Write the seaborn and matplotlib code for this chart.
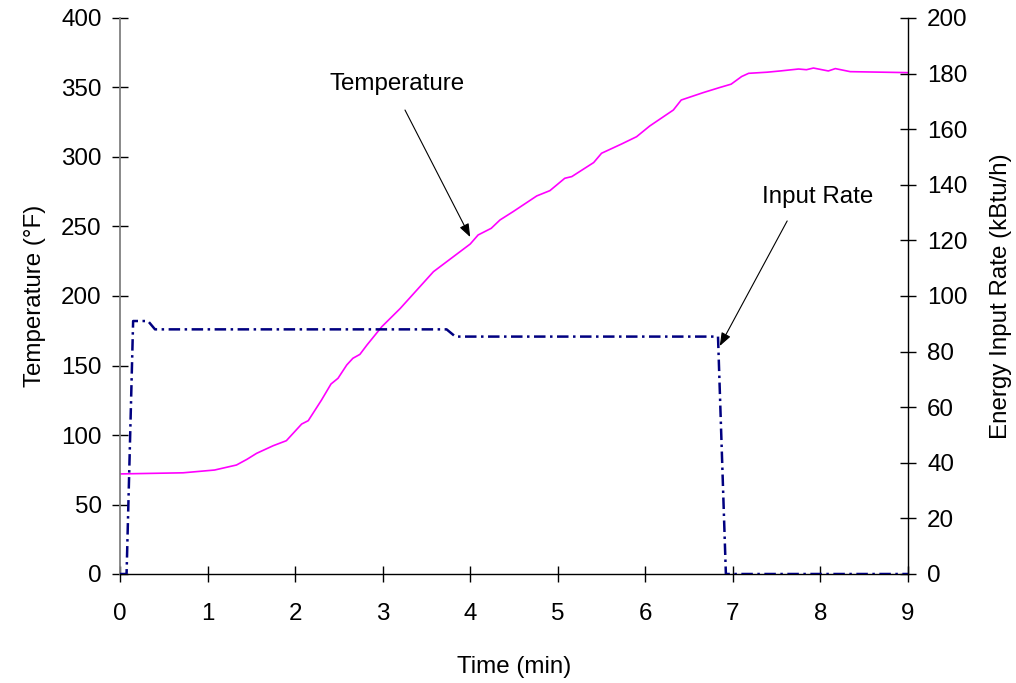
import matplotlib
matplotlib.use("Agg")
import matplotlib.pyplot as plt
import seaborn as sns
import pandas as pd

# Oven temperature trace (minutes, degrees F)
temp_time = [0.0, 0.72, 1.08, 1.33, 1.45, 1.56, 1.75, 1.90, 2.075, 2.15, 2.30, 2.41,
             2.49, 2.59, 2.66, 2.74, 2.82, 2.99, 3.20, 3.58, 4.00, 4.09, 4.24, 4.34,
             4.49, 4.76, 4.91, 5.08, 5.16, 5.41, 5.50, 5.73, 5.90, 6.05, 6.32, 6.41,
             6.66, 6.85, 6.98, 7.10, 7.18, 7.39, 7.54, 7.75, 7.84, 7.92, 8.09, 8.17,
             8.34, 8.53, 8.72, 9.00]
temp_f = [72.0, 72.8, 74.8, 78.4, 82.5, 86.8, 92.3, 95.9, 107.9, 110.3, 125.0, 136.7,
          140.8, 150.4, 155.2, 158.0, 164.7, 177.9, 191.0, 217.5, 237.4, 243.9, 248.7, 254.7,
          260.7, 272.0, 275.8, 284.7, 285.9, 296.0, 302.7, 309.4, 314.6, 322.3, 333.8, 341.0,
          346.3, 350.0, 352.4, 357.9, 360.2, 361.0, 361.9, 363.3, 362.8, 364.0, 361.9, 363.6,
          361.4, 361.2, 361.0, 360.7]

# Burner energy input rate (minutes, kBtu/h)
rate_time = [0.0, 0.075, 0.15, 0.32, 0.40, 3.73, 3.83, 6.83, 6.92, 9.0]
rate_kbtu = [0.0, 0.0, 91.0, 91.0, 88.0, 88.0, 85.4, 85.4, 0.0, 0.0]

x_ticks = list(range(0, 10))
temp_ticks = list(range(0, 401, 50))
rate_ticks = list(range(0, 201, 20))

temp_df = pd.DataFrame({"time": temp_time, "temp": temp_f})
rate_df = pd.DataFrame({"time": rate_time, "rate": rate_kbtu})

sns.set_style("white")
plt.rcParams["font.family"] = ["Liberation Sans", "DejaVu Sans"]
for key in ("text.color", "axes.labelcolor", "xtick.color", "ytick.color"):
    plt.rcParams[key] = "black"
fs = 17.4

fig = plt.figure(figsize=(10.16, 6.83), dpi=100)
ax1 = fig.add_axes([120 / 1016, 1 - 574 / 683, 788 / 1016, 556 / 683])
ax2 = ax1.twinx()

sns.lineplot(data=temp_df, x="time", y="temp", ax=ax1, color="#FF00FF",
             linewidth=1.2, estimator=None, sort=False)
sns.lineplot(data=rate_df, x="time", y="rate", ax=ax2, color="#000080",
             linewidth=1.8, estimator=None, sort=False,
             linestyle=(0, (4.6, 1.8, 1.0, 1.8)))

ax1.set_xlim(0, 9)
ax1.set_ylim(0, 400)
ax2.set_ylim(0, 200)
ax1.set_xticks(x_ticks)
ax1.set_yticks(temp_ticks)
ax2.set_yticks(rate_ticks)

for sp in ("top", "right"):
    ax1.spines[sp].set_visible(False)
for sp in ("top", "left", "bottom"):
    ax2.spines[sp].set_visible(False)
ax1.spines["left"].set_color("#808080")
ax1.spines["left"].set_linewidth(1.3)
ax1.spines["bottom"].set_color("black")
ax1.spines["bottom"].set_linewidth(1.0)
ax2.spines["right"].set_color("black")
ax2.spines["right"].set_linewidth(1.0)

ax1.tick_params(axis="y", direction="inout", length=11.5, width=1.0, color="black",
                labelcolor="black", labelsize=fs, pad=7.5, left=True)
ax1.tick_params(axis="x", direction="inout", length=12, width=1.0, color="black",
                labelcolor="black", labelsize=fs, pad=15, bottom=True)
ax2.tick_params(axis="y", direction="inout", length=11.5, width=1.0, color="black",
                labelcolor="black", labelsize=fs, pad=8, right=True)

ax1.set_xlabel("Time (min)", fontsize=fs, labelpad=22)
ax1.set_ylabel("Temperature (°F)", fontsize=fs, labelpad=11)
ax2.set_ylabel("Energy Input Rate (kBtu/h)", fontsize=fs, labelpad=16)

arrow = dict(arrowstyle="-|>,head_length=0.8,head_width=0.3", color="black",
             lw=0.8, shrinkA=0, shrinkB=0)
ax1.annotate("", xy=(4.0, 242.4), xytext=(3.255, 333.8), arrowprops=arrow)
ax1.text(3.16, 352.5, "Temperature", fontsize=fs, ha="center", va="center")
ax2.annotate("", xy=(6.85, 82.0), xytext=(7.62, 127.0), arrowprops=arrow)
ax2.text(7.97, 135.6, "Input Rate", fontsize=fs, ha="center", va="center")

fig.savefig("out.png", dpi=100)
